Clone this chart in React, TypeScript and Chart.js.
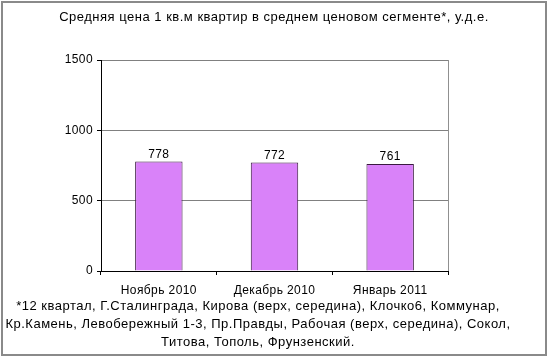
import React, { useEffect, useRef } from 'react';
import { Chart, registerables } from 'chart.js';

Chart.register(...registerables);

const categories = ['Ноябрь 2010', 'Декабрь 2010', 'Январь 2011'];
const values = [778, 772, 761];
const yTicks = [0, 500, 1000, 1500];
const titleText = 'Средняя цена 1 кв.м квартир в среднем ценовом сегменте*, у.д.е.';
const footnoteLines = [
  '*12 квартал, Г.Сталинграда, Кирова (верх, середина), Клочко6, Коммунар,',
  'Кр.Камень, Левобережный 1-3, Пр.Правды, Рабочая (верх, середина), Сокол,',
  'Титова, Тополь, Фрунзенский.',
];

const FONT = '"Liberation Sans", Arial, sans-serif';

const decorPlugin = {
  id: 'decor',
  beforeDraw(chart: any) {
    const ctx = chart.ctx;
    ctx.save();
    ctx.fillStyle = '#ffffff';
    ctx.fillRect(0, 0, chart.width, chart.height);
    ctx.restore();
    ctx.letterSpacing = '0.4px';
  },
  afterDatasetsDraw(chart: any) {
    const ctx = chart.ctx;
    const meta = chart.getDatasetMeta(0);
    ctx.save();
    ctx.font = `12px ${FONT}`;
    ctx.fillStyle = '#000';
    ctx.textAlign = 'center';
    ctx.textBaseline = 'bottom';
    meta.data.forEach((el: any, i: number) => {
      ctx.fillText(String(values[i]), el.x, el.y - 1);
    });
    ctx.restore();
  },
  afterDraw(chart: any) {
    const ctx = chart.ctx;
    const a = chart.chartArea;
    ctx.save();
    // plot area right border
    ctx.strokeStyle = '#909090';
    ctx.lineWidth = 1;
    ctx.beginPath();
    ctx.moveTo(Math.round(a.right) + 0.5, a.top);
    ctx.lineTo(Math.round(a.right) + 0.5, a.bottom);
    ctx.stroke();
    // outer border
    ctx.strokeStyle = '#8a8a8a';
    ctx.lineWidth = 2;
    ctx.strokeRect(2, 2, 544, 353);
    // title
    ctx.fillStyle = '#000';
    ctx.font = `13px ${FONT}`;
    ctx.letterSpacing = '0.5px';
    ctx.textAlign = 'center';
    ctx.textBaseline = 'middle';
    ctx.fillText(titleText, 274, 17);
    // footnotes
    footnoteLines.forEach((line, i) => {
      ctx.fillText(line, 258, 306 + i * 18);
    });
    ctx.restore();
  },
};

export default function App() {
  const ref = useRef<HTMLCanvasElement | null>(null);
  useEffect(() => {
    if (!ref.current) return;
    const chart = new Chart(ref.current, {
      type: 'bar',
      data: {
        labels: categories,
        datasets: [
          {
            data: values,
            backgroundColor: '#D982F9',
            borderColor: '#3a1a40',
            borderWidth: 1,
            barPercentage: 0.41,
            categoryPercentage: 1,
          },
        ],
      },
      options: {
        responsive: false,
        devicePixelRatio: 1,
        animation: false,
        layout: { padding: { top: 60, right: 102, bottom: 0, left: 0 } },
        plugins: {
          legend: { display: false },
          title: { display: false },
          tooltip: { enabled: false },
        },
        scales: {
          x: {
            type: 'category',
            offset: true,
            grid: {
              offset: true,
              drawOnChartArea: false,
              drawTicks: true,
              tickLength: 4,
              color: '#000',
            },
            border: { color: '#000', width: 1 },
            ticks: {
              color: '#000',
              font: { size: 12, family: FONT },
              padding: 8,
              maxRotation: 0,
              autoSkip: false,
            },
            afterFit: (s: any) => {
              s.height = 89;
            },
          },
          y: {
            min: 0,
            max: 1500,
            afterBuildTicks: (s: any) => {
              s.ticks = yTicks.map((v) => ({ value: v }));
            },
            grid: {
              color: '#808080',
              tickColor: '#000',
              tickLength: 4,
            },
            border: { color: '#000', width: 1 },
            ticks: {
              color: '#000',
              font: { size: 12, family: FONT },
              padding: 4,
              callback: (v: any) => String(v),
            },
            afterFit: (s: any) => {
              s.width = 101;
            },
          },
        },
      },
      plugins: [decorPlugin],
    } as any);
    return () => chart.destroy();
  }, []);
  return (
    <div style={{ position: 'fixed', left: 0, top: 0, width: 550, height: 360, background: '#fff' }}>
      <canvas ref={ref} width={550} height={360} style={{ display: 'block' }} />
    </div>
  );
}
